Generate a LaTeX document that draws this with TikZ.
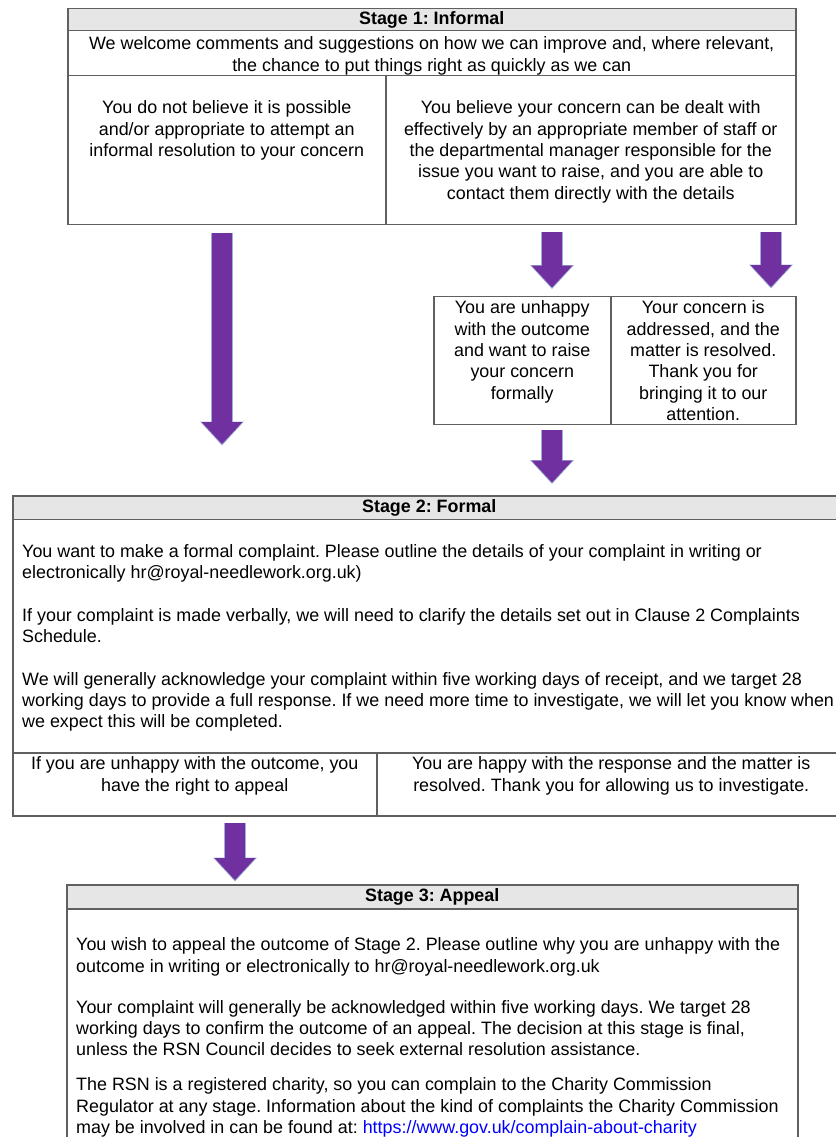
\documentclass[tikz,border=0pt]{standalone}
\usepackage{fontspec}
\setmainfont{Liberation Sans}
\usetikzlibrary{arrows.meta, positioning}
\frenchspacing

\definecolor{rsnpurple}{HTML}{7030A0}
\definecolor{arrowedge}{HTML}{9DAFD6}
\definecolor{tablegray}{HTML}{606060}
\definecolor{headfill}{HTML}{E7E6E6}
\definecolor{linkblue}{HTML}{0000FF}

\tikzset{
  cell/.style={draw=tablegray, line width=1.5pt, inner sep=0pt, anchor=north west},
  headcell/.style={cell, fill=headfill, font=\fontsize{17.9}{21.4}\selectfont\bfseries},
  txt/.style={inner sep=0pt, font=\fontsize{17.9}{21.4}\selectfont, align=center, anchor=north},
  para/.style={txt, align=left, anchor=north west},
  flow/.style={draw=rsnpurple, line width=20pt, -{Triangle[length=22pt, width=41pt, line width=0pt]},
    preaction={draw=arrowedge, line width=22pt, shorten >=-1.5pt,
      -{Triangle[length=24pt, width=44pt, line width=0pt]}}}
}

\begin{document}
\begin{tikzpicture}[x=1pt, y=-1pt]
    \useasboundingbox (0,0) rectangle (835,1137);

    % Stage 1 table
    \node[headcell, minimum width=728pt, minimum height=22pt] (s1head) at (67,8) {Stage 1: Informal};
    \node[cell, minimum width=728pt, minimum height=45pt] (s1intro) at (67,30) {};
    \node[cell, minimum width=318pt, minimum height=148.5pt] (s1left) at (67,75) {};
    \node[cell, minimum width=410pt, minimum height=148.5pt] (s1right) at (385,75) {};

    \node[txt, below=6.5pt of s1intro.north] (s1introtxt) {We welcome comments and suggestions on how we can improve and, where relevant,\\the chance to put things right as quickly as we can};
    \node[txt, below=25.5pt of s1left.north] (s1lefttxt) {You do not believe it is possible\\and/or appropriate to attempt an\\informal resolution to your concern};
    \node[txt, below=25.5pt of s1right.north] (s1righttxt) {You believe your concern can be dealt with\\effectively by an appropriate member of staff or\\the departmental manager responsible for the\\issue you want to raise, and you are able to\\contact them directly with the details};

    % Informal outcomes
    \node[cell, minimum width=177pt, minimum height=128pt] (s1unhappy) at (433,295.5) {};
    \node[cell, minimum width=185pt, minimum height=128pt] (s1resolved) at (610,295.5) {};
    \node[txt, below=5pt of s1unhappy.north] (s1unhappytxt) {You are unhappy\\with the outcome\\and want to raise\\your concern\\formally};
    \node[txt, below=5pt of s1resolved.north] (s1resolvedtxt) {Your concern is\\addressed, and the\\matter is resolved.\\Thank you for\\bringing it to our\\attention.};

    % Stage 2 table
    \node[headcell, minimum width=833pt, minimum height=23.5pt] (s2head) at (12,495) {Stage 2: Formal};
    \node[cell, minimum width=833pt, minimum height=233.5pt] (s2body) at (12,518.5) {};
    \node[cell, minimum width=364pt, minimum height=63pt] (s2appeal) at (12,752) {};
    \node[cell, minimum width=469pt, minimum height=63pt] (s2happy) at (376,752) {};

    \node[para] (s2p1) at (22,544) {You want to make a formal complaint. Please outline the details of your complaint in writing or\\electronically hr@royal-needlework.org.uk)};
    \node[para] (s2p2) at (22,608) {If your complaint is made verbally, we will need to clarify the details set out in Clause 2 Complaints\\Schedule.};
    \node[para] (s2p3) at (22,672) {We will generally acknowledge your complaint within five working days of receipt, and we target 28\\working days to provide a full response. If we need more time to investigate, we will let you know when\\we expect this will be completed.};
    \node[txt, below=4.5pt of s2appeal.north] (s2appealtxt) {If you are unhappy with the outcome, you\\have the right to appeal};
    \node[txt, below=4.5pt of s2happy.north] (s2happytxt) {You are happy with the response and the matter is\\resolved. Thank you for allowing us to investigate.};

    % Stage 3 table
    \node[headcell, minimum width=731pt, minimum height=24pt] (s3head) at (66,884) {Stage 3: Appeal};
    \node[cell, minimum width=731pt, minimum height=270pt] (s3body) at (66,908) {};

    \node[para] (s3p1) at (76,937.5) {You wish to appeal the outcome of Stage 2. Please outline why you are unhappy with the\\outcome in writing or electronically to hr@royal-needlework.org.uk};
    \node[para] (s3p2) at (76,1000) {Your complaint will generally be acknowledged within five working days. We target 28\\working days to confirm the outcome of an appeal. The decision at this stage is final,\\unless the RSN Council decides to seek external resolution assistance.};
    \node[para] (s3p3) at (76,1077.5) {The RSN is a registered charity, so you can complain to the Charity Commission\\Regulator at any stage. Information about the kind of complaints the Charity Commission\\may be involved in can be found at: \textcolor{linkblue}{\underline{https://www.gov.uk/complain-about-charity}}};

    % Arrows between the stages
    \coordinate (a1top) at (222,232.5);
    \coordinate (a1end) at (222,444);
    \coordinate (a2top) at (552,232);
    \coordinate (a2end) at (552,287.5);
    \coordinate (a3top) at (771,232);
    \coordinate (a3end) at (771,287);
    \coordinate (a4top) at (552,430);
    \coordinate (a4end) at (552,482.5);
    \coordinate (a5top) at (235,823);
    \coordinate (a5end) at (235,880);

    \draw[flow] (a1top) -- (a1end);
    \draw[flow] (a2top) -- (a2end);
    \draw[flow] (a3top) -- (a3end);
    \draw[flow] (a4top) -- (a4end);
    \draw[flow] (a5top) -- (a5end);
\end{tikzpicture}
\end{document}
